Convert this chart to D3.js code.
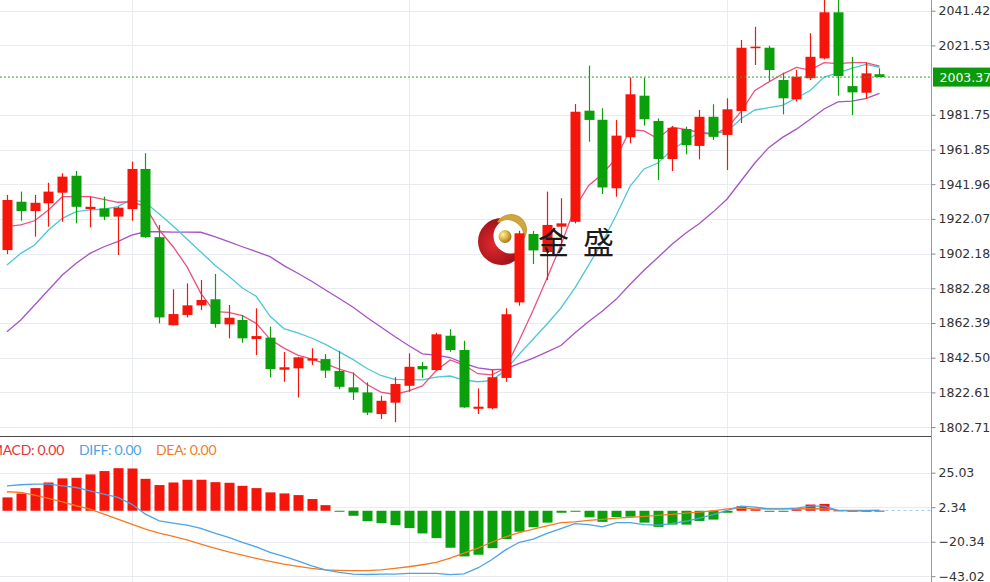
<!DOCTYPE html>
<html><head><meta charset="utf-8">
<script src="https://cdn.jsdelivr.net/npm/d3@7"></script>
<style>
html,body{margin:0;padding:0;background:#fff;}
svg{display:block;}
</style></head><body>
<svg id="chart" width="990" height="582"></svg>
<script>
// ---------------- data ----------------
const candleIndex = d3.range(64);
const openP  = [1904.2,1931.9,1926.6,1931.0,1937.1,1946.8,1927.7,1928.1,1923.4,1927.7,
                1950.7,1911.6,1861.1,1867.0,1872.5,1876.0,1861.6,1864.1,1853.2,1854.0,
                1835.6,1836.4,1840.8,1841.7,1834.9,1825.5,1822.6,1810.2,1816.7,1826.4,
                1837.7,1835.4,1855.1,1846.9,1813.2,1813.5,1830.9,1874.2,1913.4,1903.1,
                1917.6,1920.4,1984.1,1978.9,1939.6,1968.9,1992.7,1978.2,1956.4,1973.6,
                1963.9,1980.6,1970.2,1983.9,2019.9,2020.2,2001.7,1990.6,2002.7,2014.1,
                2040.5,1998.2,1994.4,2005.0];
const highP  = [1935.8,1937.7,1935.8,1942.8,1948.2,1949.5,1934.8,1934.8,1929.0,1954.9,
                1959.7,1918.6,1881.7,1885.1,1887.0,1890.5,1872.7,1867.0,1870.8,1860.3,
                1845.8,1843.0,1847.9,1844.6,1846.3,1834.1,1828.4,1820.7,1831.3,1845.0,
                1840.1,1856.8,1858.8,1852.2,1824.9,1835.5,1870.8,1915.3,1915.1,1937.7,
                1933.9,1987.9,2009.9,1985.5,1978.8,2003.2,2003.0,1979.7,1975.3,1974.9,
                1984.5,1987.8,1991.2,2024.6,2032.2,2021.3,2005.9,2007.4,2028.5,2049.0,
                2049.0,2015.0,2011.8,2008.4];
const lowP   = [1901.9,1921.0,1911.9,1917.6,1920.4,1919.5,1917.2,1921.4,1901.4,1921.0,
                1911.2,1862.2,1861.1,1865.6,1869.8,1859.7,1853.6,1851.1,1844.0,1831.3,
                1828.7,1819.7,1838.3,1830.9,1824.4,1818.2,1809.6,1807.3,1805.5,1822.9,
                1830.9,1835.0,1845.9,1813.8,1810.2,1812.9,1828.7,1872.3,1896.2,1887.0,
                1906.1,1919.5,1966.3,1936.3,1934.8,1965.4,1975.5,1944.4,1949.5,1959.1,
                1956.2,1967.3,1950.1,1977.0,2010.3,2001.1,1982.0,1989.3,2001.7,2013.5,
                1992.7,1981.6,1990.8,2003.37];
const closeP = [1932.9,1926.6,1931.3,1937.7,1946.3,1929.0,1929.0,1923.3,1928.5,1950.7,
                1911.6,1865.6,1867.5,1872.5,1875.6,1861.8,1865.4,1853.6,1854.9,1836.0,
                1837.0,1842.7,1842.1,1835.1,1825.8,1822.6,1811.0,1817.8,1827.4,1837.3,
                1835.8,1855.9,1846.9,1814.0,1814.4,1831.3,1867.4,1913.8,1904.0,1918.6,
                1919.5,1983.5,1978.8,1940.1,1969.8,1993.5,1979.2,1956.4,1974.3,1964.4,
                1980.6,1969.1,1984.9,2020.2,2020.8,2007.4,1991.2,2003.6,2015.0,2040.5,
                2004.0,1994.6,2005.5,2003.37];
const ma5  = [1917.6,1918.6,1921.0,1927.2,1934.8,1934.8,1934.8,1933.3,1931.6,1931.9,
              1929.1,1915.7,1906.1,1894.7,1879.4,1868.9,1868.5,1866.6,1862.2,1853.0,
              1848.0,1844.0,1841.7,1838.9,1836.0,1833.6,1827.1,1822.8,1821.4,1823.5,
              1826.3,1835.1,1841.2,1838.3,1833.3,1832.6,1836.6,1852.6,1869.8,1888.2,
              1907.1,1928.3,1941.2,1947.8,1957.0,1973.3,1972.5,1968.0,1974.7,1973.4,
              1971.6,1970.4,1974.2,1983.6,1995.7,2000.5,2005.1,2008.9,2007.4,2011.6,
              2011.1,2011.6,2011.7,2009.7];
const ma10 = [1895.6,1902.3,1907.1,1915.7,1922.4,1926.2,1927.2,1927.6,1929.1,1933.3,
              1931.4,1924.9,1918.0,1910.5,1903.1,1895.6,1889.3,1882.4,1877.7,1866.2,
              1859.2,1856.7,1853.8,1850.1,1845.8,1841.4,1836.3,1832.3,1830.1,1829.9,
              1829.8,1831.4,1832.0,1829.7,1828.7,1829.4,1835.4,1844.6,1853.2,1861.8,
              1871.0,1882.4,1895.6,1908.8,1924.3,1940.9,1950.7,1954.1,1961.6,1966.7,
              1971.9,1971.0,1972.2,1979.5,1984.5,1985.8,1987.2,1991.4,1995.7,2003.4,
              2005.8,2008.3,2010.6,2009.0];
const ma20 = [1857.4,1864.1,1872.7,1881.3,1889.9,1896.6,1902.3,1906.1,1909.0,1912.8,
              1914.7,1914.7,1914.5,1914.5,1914.4,1911.9,1909.0,1906.1,1903.3,1900.4,
              1895.3,1890.9,1886.3,1881.3,1876.4,1871.4,1865.5,1860.1,1854.6,1849.5,
              1844.7,1844.0,1842.6,1839.2,1836.6,1835.6,1836.0,1839.2,1842.3,1845.8,
              1849.5,1856.6,1863.2,1869.3,1876.1,1884.6,1892.6,1899.9,1907.4,1913.8,
              1919.4,1926.1,1933.5,1943.8,1954.1,1962.9,1968.8,1973.5,1979.2,1985.1,
              1989.1,1989.6,1991.0,1994.0];
const macdHist = [8.8,11.4,14.9,18.6,21.3,21.7,23.9,26.1,28.0,27.8,
                  21.0,16.9,18.6,20.4,20.4,18.8,18.4,16.4,14.9,12.1,
                  11.4,10.3,7.7,3.7,-0.3,-3.3,-6.8,-8.1,-9.4,-11.4,
                  -14.9,-18.0,-24.3,-30.0,-28.9,-24.6,-18.6,-13.8,-10.8,-7.8,
                  -1.3,-0.6,-4.3,-7.3,-4.1,-3.9,-7.8,-10.6,-9.1,-9.1,
                  -6.7,-5.8,-1.3,3.0,1.0,-0.2,-0.3,1.0,4.1,4.5,
                  0.3,-0.3,-0.2,0.1];
const diffLine = [16.4,17.1,17.5,17.5,16.4,15.3,13.1,11.0,8.8,4.4,
                  -2.2,-6.6,-8.1,-9.4,-11.6,-14.7,-17.5,-20.8,-23.7,-27.4,
                  -30.0,-32.9,-36.2,-38.8,-40.5,-41.6,-41.9,-41.6,-41.6,-41.2,
                  -41.2,-41.2,-42.0,-41.5,-37.6,-32.2,-25.7,-20.7,-18.6,-14.9,
                  -11.7,-8.4,-9.1,-10.6,-7.8,-7.8,-9.1,-9.5,-8.4,-6.9,
                  -4.8,-2.6,0.2,3.0,2.4,1.3,1.3,1.7,3.0,3.0,
                  0.2,-0.2,0.0,0.2];
const deaLine  = [12.5,12.1,10.3,8.1,5.9,3.3,1.1,-2.2,-5.5,-8.8,
                  -12.1,-14.7,-16.9,-19.1,-21.9,-24.5,-27.0,-29.1,-31.3,-33.3,
                  -35.1,-36.6,-37.9,-38.8,-39.2,-39.4,-39.4,-38.8,-37.9,-36.8,
                  -35.5,-34.0,-31.2,-27.9,-24.6,-20.7,-17.1,-14.3,-12.1,-9.9,
                  -7.8,-7.3,-6.3,-5.6,-4.8,-4.3,-3.7,-3.0,-2.4,-1.5,
                  -0.9,0.0,1.3,1.7,1.3,1.3,1.3,1.3,1.5,1.3,
                  0.4,0.2,0.2,0.2];
const priceTicks = [2041.42,2021.53,1981.75,1961.85,1941.96,1922.07,1902.18,1882.28,1862.39,1842.50,1822.61,1802.71];
const macdTicks = [25.03,2.34,-20.34,-43.02];
const lastPrice = 2003.37;
const periodStartIdx = [9, 29, 52];
const legendLabels = ["MACD","DIFF","DEA"];
const legendValues = ["0.00","0.00","0.00"];
const brandText = ["金","盛"];

// ---------------- styles ----------------
const RED = "#f5150b", GREEN = "#0b9f0b";
const C_MA5 = "#e9527e", C_MA10 = "#4cc8d6", C_MA20 = "#a653c6";
const C_DIFF = "#4ea3e6", C_DEA = "#f47b23";
const legendColors = ["#e8323a", "#4ea3e6", "#f47b23"];
const GRID = "#e8ebf0";
const axisX = 931.5;
const AXFONT = "'DejaVu Sans', Tahoma, sans-serif";

const svg = d3.select("#chart");
svg.append("rect").attr("width",990).attr("height",582).attr("fill","#fff");

const x = d3.scaleBand().domain(candleIndex).range([0, 886.4]).paddingInner(0.28).paddingOuter(0.14);
const cx = i => x(i) + x.bandwidth()/2;
const y = d3.scaleLinear().domain([1802.71, 2041.42]).range([427.1, 10.7]);
const ym = d3.scaleLinear().domain([-43.02, 25.03]).range([576.2, 472.7]);

// grid
const grid = svg.append("g");
grid.selectAll(".hg").data(priceTicks).join("line")
  .attr("x1",0).attr("x2",axisX).attr("y1",d=>Math.round(y(d))+0.5).attr("y2",d=>Math.round(y(d))+0.5)
  .attr("stroke",GRID).attr("stroke-width",1);
grid.selectAll(".mg").data(macdTicks).join("line")
  .attr("x1",0).attr("x2",axisX).attr("y1",d=>Math.round(ym(d))+0.5).attr("y2",d=>Math.round(ym(d))+0.5)
  .attr("stroke",GRID).attr("stroke-width",1);
grid.selectAll(".vg").data(periodStartIdx).join("line")
  .attr("x1",d=>Math.round(cx(d))+0.5).attr("x2",d=>Math.round(cx(d))+0.5)
  .attr("y1",0).attr("y2",582).attr("stroke",GRID).attr("stroke-width",1);

// watermark logo (behind candles)
const defs = svg.append("defs");
const rg = defs.append("radialGradient").attr("id","redg").attr("cx","35%").attr("cy","55%").attr("r","70%");
rg.append("stop").attr("offset","0%").attr("stop-color","#e02a2e");
rg.append("stop").attr("offset","100%").attr("stop-color","#8a0b12");
const gg = defs.append("radialGradient").attr("id","goldg").attr("cx","35%").attr("cy","35%").attr("r","70%");
gg.append("stop").attr("offset","0%").attr("stop-color","#fff2a8");
gg.append("stop").attr("offset","55%").attr("stop-color","#d7b03e");
gg.append("stop").attr("offset","100%").attr("stop-color","#9a7412");
const wm = svg.append("g");
wm.append("circle").attr("cx",501.5).attr("cy",241.5).attr("r",23.5).attr("fill","url(#redg)");
wm.append("circle").attr("cx",511).attr("cy",236).attr("r",17.5).attr("fill","#fff");
wm.append("path").attr("d","M498,222 A17,17 0 0 1 524,238 A14,14 0 0 0 498,222 Z")
  .attr("fill","#cfa843").attr("stroke","#c9a23a").attr("stroke-width",1.5);
wm.append("path").attr("d","M524,240 A17,17 0 0 1 512,253 A13,13 0 0 0 524,240 Z")
  .attr("fill","#d9b65a").attr("opacity",0.8);
wm.append("circle").attr("cx",505).attr("cy",236.5).attr("r",6.5).attr("fill","url(#goldg)");

// MA lines
const maLine = d3.line().x((d,i)=>cx(i)).y(d=>y(d));
[[ma20,C_MA20],[ma10,C_MA10],[ma5,C_MA5]].forEach(([arr,c])=>{
  svg.append("path").attr("d",maLine(arr)).attr("fill","none").attr("stroke",c).attr("stroke-width",1.3);
});

// candles
const cg = svg.append("g");
candleIndex.forEach(i=>{
  const up = closeP[i] >= openP[i];
  const col = up ? RED : GREEN;
  const xc = Math.round(cx(i)) + 0.5;
  cg.append("line").attr("x1",xc).attr("x2",xc).attr("y1",y(highP[i])).attr("y2",y(lowP[i]))
    .attr("stroke",col).attr("stroke-width",1.2);
  const top = y(Math.max(openP[i],closeP[i])), bot = y(Math.min(openP[i],closeP[i]));
  cg.append("rect").attr("x",xc-5).attr("width",10)
    .attr("y",top).attr("height",Math.max(1.5, bot-top)).attr("fill",col);
});

// brand text (over candles)
svg.append("g").selectAll("text").data(brandText).join("text")
  .attr("x",(d,i)=>538 + i*45).attr("y",254)
  .attr("font-family","'Noto Sans CJK SC', sans-serif").attr("font-size",31)
  .attr("fill","#1b1b1b").text(d=>d);

// current price line
svg.append("line").attr("x1",0).attr("x2",axisX).attr("y1",y(lastPrice)).attr("y2",y(lastPrice))
  .attr("stroke","#2aa52a").attr("stroke-width",1).attr("stroke-dasharray","2,2");

// MACD histogram
const mg = svg.append("g");
candleIndex.forEach(i=>{
  const v = macdHist[i];
  const y0 = ym(0), y1 = ym(v);
  mg.append("rect").attr("x",Math.round(cx(i))+0.5-5).attr("width",10)
    .attr("y",Math.min(y0,y1)).attr("height",Math.max(1,Math.abs(y1-y0)))
    .attr("fill", v>=0 ? RED : GREEN);
});
const mLine = d3.line().x((d,i)=>cx(i)).y(d=>ym(d));
svg.append("path").attr("d",mLine(deaLine)).attr("fill","none").attr("stroke",C_DEA).attr("stroke-width",1.3);
svg.append("path").attr("d",mLine(diffLine)).attr("fill","none").attr("stroke",C_DIFF).attr("stroke-width",1.3);
svg.append("line").attr("x1",cx(63)).attr("x2",axisX).attr("y1",ym(diffLine[63])).attr("y2",ym(diffLine[63]))
  .attr("stroke","#9fd0f0").attr("stroke-width",1).attr("stroke-dasharray","3,3");

// panel separator
svg.append("line").attr("x1",0).attr("x2",990).attr("y1",436.5).attr("y2",436.5)
  .attr("stroke","#4a4a4a").attr("stroke-width",1);

// legend
const lg = svg.append("g").attr("font-family","Lato, sans-serif").attr("font-size",14).attr("letter-spacing","-0.3px");
const legX = [-10, 79, 156];
legendLabels.forEach((l,i)=>{
  lg.append("text").attr("x",legX[i]).attr("y",455).attr("fill",legendColors[i]).text(l+": "+legendValues[i]);
});

// right axis
svg.append("rect").attr("x",axisX).attr("y",0).attr("width",990-axisX).attr("height",582).attr("fill","#fff");
svg.append("line").attr("x1",axisX).attr("x2",axisX).attr("y1",0).attr("y2",582).attr("stroke","#9a9a9a");
const fmt = d3.format(".2f");
const ax = svg.append("g").attr("transform",`translate(${axisX},0)`)
  .call(d3.axisRight(y).tickValues(priceTicks).tickSize(4).tickPadding(3).tickFormat(fmt));
const axm = svg.append("g").attr("transform",`translate(${axisX},0)`)
  .call(d3.axisRight(ym).tickValues(macdTicks).tickSize(4).tickPadding(3).tickFormat(fmt));
[ax,axm].forEach(g=>{
  g.select(".domain").remove();
  g.selectAll(".tick line").attr("stroke","#888");
  g.selectAll(".tick text").attr("fill","#333").attr("font-family",AXFONT).attr("font-size",12.5);
});

// last price label
const ly = y(lastPrice);
svg.append("rect").attr("x",axisX+1.5).attr("y",ly-9.5).attr("width",990-axisX).attr("height",19).attr("fill","#0a9a0a");
svg.append("text").attr("x",axisX+8).attr("y",ly+4.5).attr("fill","#fff")
  .attr("font-family",AXFONT).attr("font-size",12.5).text(fmt(lastPrice));
</script>
</body></html>
